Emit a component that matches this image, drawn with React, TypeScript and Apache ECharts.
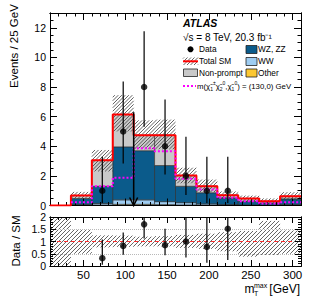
import React, { useEffect, useRef } from "react";
import * as echarts from "echarts";

// ---------------- data ----------------
const binEdges = [10, 35, 60, 85, 110, 135, 160, 185, 210, 235, 260, 285, 310];
const otherBkg = [0, 0.02, 0.04, 0.08, 0.08, 0.06, 0.04, 0.03, 0.02, 0.01, 0.01, 0.02];
const wwBkg = [0, 0.05, 0.1, 0.3, 0.3, 0.2, 0.15, 0.08, 0.05, 0.03, 0.02, 0.05];
const wzzzBkg = [0, 0.4, 1.16, 3.58, 3.32, 2.44, 1.11, 0.75, 0.45, 0.25, 0.15, 0.38];
const nonPromptBkg = [0, 0.21, 1.75, 2.19, 1.05, 2.05, 0.72, 0.44, 0.18, 0.18, 0.11, 0.17];
const totalSysLow = [0, 0.45, 2.3, 5.0, 3.8, 3.8, 1.5, 0.9, 0.42, 0.2, 0.13, 0.3];
const totalSysHigh = [0, 0.92, 3.75, 7.45, 5.75, 5.8, 2.55, 1.75, 0.95, 0.67, 0.48, 0.9];
const signal130 = [0, 0.22, 1.3, 1.87, 3.87, 3.67, 1.8, 1.08, 0.52, 0.29, 0.13, 0.22];

const dataX = [72.5, 97.5, 122.5, 147.5, 172.5, 197.5, 222.5];
const dataCounts = [1, 5, 8, 4, 2, 1, 1];
const dataErrLow = [0.17, 2.84, 5.32, 2.09, 0.71, 0.17, 0.17];
const dataErrHigh = [3.3, 8.38, 11.77, 7.16, 4.64, 3.3, 3.3];

const ratioValues = [0.32, 0.82, 1.7, 0.85, 1.0, 0.78, 1.52];
const ratioErrLow = [0.05, 0.46, 1.12, 0.44, 0.35, 0.13, 0.25];
const ratioErrHigh = [1.08, 1.37, 2.5, 1.52, 2.3, 2.6, 5.0];
const ratioBandLow = [0, 0.5, 0.76, 0.78, 0.8, 0.8, 0.74, 0.7, 0.6, 0.38, 0.45, 0.5];
const ratioBandHigh = [2, 1.5, 1.25, 1.24, 1.2, 1.22, 1.27, 1.32, 1.38, 1.43, 1.84, 1.45];

const cutArrow = [110, 6.3];

const xMajorTicks = [50, 100, 150, 200, 250, 300];
const xMinorTicks = Array.from({ length: 31 }, (_, i) => 10 + 10 * i);
const yMainLabels = [0, 2, 4, 6, 8, 10, 12];
const yMainMinor = Array.from({ length: 27 }, (_, i) => 0.5 * i);
const yRatioLabels = [0, 0.5, 1, 1.5, 2];
const yRatioMinor = Array.from({ length: 21 }, (_, i) => i / 10);

const FONT = "'Liberation Sans', Arial, Helvetica, sans-serif";
const C_OTHER = "#fcc832";
const C_WW = "#9fcdf2";
const C_WZ = "#0b5b8b";
const C_NP = "#c9c9c9";
const C_HATCH = "#3c3c3c";

function hatchSegments(x0: number, x1: number, yTop: number, yBot: number, s: number) {
  const segs: number[][] = [];
  const kStart = Math.ceil((x0 + yTop) / s) * s;
  for (let k = kStart; k <= x1 + yBot; k += s) {
    const xa = Math.max(x0, k - yBot);
    const xb = Math.min(x1, k - yTop);
    if (xb > xa) segs.push([xa, k - xa, xb, k - xb]);
  }
  return segs;
}

function hatchChildren(x0: number, x1: number, yTop: number, yBot: number, s: number, color: string, w: number) {
  return hatchSegments(x0, x1, yTop, yBot, s).map((g) => ({
    type: "line",
    shape: { x1: g[0], y1: g[1], x2: g[2], y2: g[3] },
    style: { stroke: color, lineWidth: w },
  }));
}

export default function App() {
  const ref = useRef<HTMLDivElement>(null);

  useEffect(() => {
    if (!ref.current) return;
    const chart = echarts.init(ref.current, undefined, { renderer: "svg" });

    const nBins = binEdges.length - 1;
    const comps = [
      { values: otherBkg, color: C_OTHER },
      { values: wwBkg, color: C_WW },
      { values: wzzzBkg, color: C_WZ },
      { values: nonPromptBkg, color: C_NP },
    ];
    const cum = new Array(nBins).fill(0);
    const stackSeries = comps.map((c) => {
      const data = [];
      for (let i = 0; i < nBins; i++) {
        data.push([binEdges[i], binEdges[i + 1], cum[i], cum[i] + c.values[i]]);
        cum[i] += c.values[i];
      }
      return {
        type: "custom",
        xAxisIndex: 0,
        yAxisIndex: 0,
        z: 1,
        silent: true,
        data,
        renderItem: (params: any, api: any) => {
          const y0 = api.value(2);
          const y1 = api.value(3);
          if (y1 - y0 <= 0) return null;
          const a = api.coord([api.value(0), y1]);
          const b = api.coord([api.value(1), y0]);
          return {
            type: "rect",
            shape: { x: a[0], y: a[1], width: b[0] - a[0], height: b[1] - a[1] },
            style: { fill: c.color, stroke: "#2a2a2a", lineWidth: 0.6 },
          };
        },
      };
    });
    const totalSM = cum.slice();

    const hatchRender = (spacing: number) => (params: any, api: any) => {
      const lo = api.value(2);
      const hi = api.value(3);
      if (hi <= lo) return null;
      const a = api.coord([api.value(0), hi]);
      const b = api.coord([api.value(1), lo]);
      return { type: "group", children: hatchChildren(a[0], b[0], a[1], b[1], spacing, C_HATCH, 0.8) };
    };

    const mainBand = [];
    const ratioBand = [];
    for (let i = 0; i < nBins; i++) {
      mainBand.push([binEdges[i], binEdges[i + 1], totalSysLow[i], totalSysHigh[i]]);
      ratioBand.push([binEdges[i], binEdges[i + 1], ratioBandLow[i], ratioBandHigh[i]]);
    }

    const errRender = (yMax: number) => (params: any, api: any) => {
      const x = api.value(0);
      const p1 = api.coord([x, api.value(1)]);
      const p2 = api.coord([x, Math.min(api.value(2), yMax)]);
      return {
        type: "line",
        shape: { x1: p1[0], y1: p1[1], x2: p2[0], y2: p2[1] },
        style: { stroke: "#000", lineWidth: 1.2 },
      };
    };

    const tickStyle = { color: "#000", width: 1 };
    const lineStyle = { show: true, onZero: false, lineStyle: { color: "#000", width: 1 } };

    const makeX = (grid: number, labels: boolean, majLen: number, minLen: number) => {
      const base = { type: "value", gridIndex: grid, min: 10, max: 310, z: 10, splitLine: { show: false }, axisLine: lineStyle };
      return [
        {
          ...base,
          position: "bottom",
          axisTick: { show: true, inside: true, length: majLen, customValues: xMajorTicks, lineStyle: tickStyle },
          axisLabel: labels
            ? { show: true, customValues: xMajorTicks, margin: 3, color: "#000", fontSize: 11.5, fontFamily: FONT }
            : { show: false },
        },
        { ...base, position: "top", axisTick: { show: true, inside: true, length: majLen, customValues: xMajorTicks, lineStyle: tickStyle }, axisLabel: { show: false } },
        { ...base, position: "bottom", axisTick: { show: true, inside: true, length: minLen, customValues: xMinorTicks, lineStyle: tickStyle }, axisLabel: { show: false } },
        { ...base, position: "top", axisTick: { show: true, inside: true, length: minLen, customValues: xMinorTicks, lineStyle: tickStyle }, axisLabel: { show: false } },
      ];
    };
    const makeY = (
      grid: number,
      min: number,
      max: number,
      labels: number[],
      minor: number[],
      majLen: number,
      minLen: number,
      pad: number[]
    ) => {
      const base = { type: "value", gridIndex: grid, min, max, z: 10, splitLine: { show: false }, axisLine: lineStyle };
      return [
        {
          ...base,
          position: "left",
          axisTick: { show: true, inside: true, length: majLen, customValues: labels, lineStyle: tickStyle },
          axisLabel: {
            show: true,
            customValues: labels,
            showMinLabel: true,
            showMaxLabel: true,
            hideOverlap: false,
            margin: 4,
            color: "#000",
            fontSize: 10.5,
            lineHeight: 10,
            padding: pad,
            fontFamily: FONT,
            formatter: (v: number) => String(v),
          },
        },
        { ...base, position: "right", axisTick: { show: true, inside: true, length: majLen, customValues: labels, lineStyle: tickStyle }, axisLabel: { show: false } },
        { ...base, position: "left", axisTick: { show: true, inside: true, length: minLen, customValues: minor, lineStyle: tickStyle }, axisLabel: { show: false } },
        { ...base, position: "right", axisTick: { show: true, inside: true, length: minLen, customValues: minor, lineStyle: tickStyle }, axisLabel: { show: false } },
      ];
    };

    const legendText = (x: number, y: number, text: string) => ({
      type: "text",
      x,
      y,
      style: { text, fontSize: 8.3, fontFamily: FONT, fill: "#000", align: "left", verticalAlign: "middle" },
    });
    const legendBox = (x: number, y: number, w: number, h: number, fill: string) => ({
      type: "rect",
      shape: { x, y, width: w, height: h },
      style: { fill, stroke: "#222", lineWidth: 0.8 },
    });

    const option: any = {
      animation: false,
      grid: [
        { left: 50, top: 13, width: 251, height: 192.5, containLabel: false, outerBoundsMode: "none" },
        { left: 50, top: 217, width: 251, height: 49, containLabel: false, outerBoundsMode: "none" },
      ],
      xAxis: [...makeX(0, false, 7, 3.5), ...makeX(1, true, 6, 3)],
      yAxis: [
        ...makeY(0, 0, 13, yMainLabels, yMainMinor, 7, 3.5, [0, 0, 2, 0]),
        ...makeY(1, 0, 2, yRatioLabels, yRatioMinor, 6, 3, [2, 0, 0, 0]),
      ],
      series: [
        ...stackSeries,
        {
          type: "custom",
          xAxisIndex: 0,
          yAxisIndex: 0,
          z: 2,
          silent: true,
          data: mainBand,
          renderItem: hatchRender(3.5),
        },
        {
          type: "line",
          xAxisIndex: 0,
          yAxisIndex: 0,
          z: 11,
          step: "end",
          symbol: "none",
          showSymbol: false,
          silent: true,
          lineStyle: { color: "#ff0000", width: 2 },
          data: binEdges.map((e, i) => [e, totalSM[Math.min(i, nBins - 1)]]),
        },
        {
          type: "line",
          xAxisIndex: 0,
          yAxisIndex: 0,
          z: 12,
          step: "end",
          symbol: "none",
          showSymbol: false,
          silent: true,
          lineStyle: { color: "#ff00ff", width: 2, type: [2, 2] },
          data: binEdges.slice(1).map((e, j) => [e, signal130[Math.min(j + 1, nBins - 1)]]),
        },
        {
          type: "custom",
          xAxisIndex: 0,
          yAxisIndex: 0,
          z: 13,
          silent: true,
          data: [cutArrow],
          renderItem: (params: any, api: any) => {
            const top = api.coord([api.value(0), api.value(1)]);
            const bot = api.coord([api.value(0), 0]);
            return {
              type: "group",
              children: [
                { type: "line", shape: { x1: top[0], y1: top[1], x2: bot[0], y2: bot[1] }, style: { stroke: "#000", lineWidth: 1.5 } },
                {
                  type: "polyline",
                  shape: { points: [[bot[0] - 4, bot[1] - 8], [bot[0], bot[1]], [bot[0] + 4, bot[1] - 8]] },
                  style: { stroke: "#000", lineWidth: 1.5, fill: "none" },
                },
              ],
            };
          },
        },
        {
          type: "custom",
          xAxisIndex: 0,
          yAxisIndex: 0,
          z: 14,
          silent: true,
          data: dataX.map((x, i) => [x, dataErrLow[i], dataErrHigh[i]]),
          renderItem: errRender(13),
        },
        {
          type: "scatter",
          xAxisIndex: 0,
          yAxisIndex: 0,
          z: 15,
          silent: true,
          symbol: "circle",
          symbolSize: 6.5,
          itemStyle: { color: "#000" },
          data: dataX.map((x, i) => [x, dataCounts[i]]),
        },
        // ratio panel
        {
          type: "custom",
          xAxisIndex: 4,
          yAxisIndex: 4,
          z: 2,
          silent: true,
          data: ratioBand,
          renderItem: hatchRender(4),
        },
        {
          type: "custom",
          xAxisIndex: 4,
          yAxisIndex: 4,
          z: 14,
          silent: true,
          data: dataX.map((x, i) => [x, ratioErrLow[i], ratioErrHigh[i]]),
          renderItem: errRender(2),
        },
        {
          type: "scatter",
          xAxisIndex: 4,
          yAxisIndex: 4,
          z: 15,
          silent: true,
          symbol: "circle",
          symbolSize: 6.5,
          itemStyle: { color: "#000" },
          data: dataX.map((x, i) => [x, ratioValues[i]]),
          markLine: {
            silent: true,
            symbol: "none",
            label: { show: false },
            animation: false,
            data: [
              { yAxis: 0.5, lineStyle: { color: "#b8b8b8", type: [1, 1], width: 1 } },
              { yAxis: 1.5, lineStyle: { color: "#b8b8b8", type: [1, 1], width: 1 } },
              { yAxis: 1, lineStyle: { color: "#ff3030", type: [4, 3], width: 1 } },
            ],
          },
        },
      ],
      graphic: [
        {
          type: "text",
          x: 14,
          y: 46,
          rotation: Math.PI / 2,
          style: { text: "Events / 25 GeV", fontSize: 11.5, fontFamily: FONT, fill: "#000", align: "center", verticalAlign: "middle" },
        },
        {
          type: "text",
          x: 16,
          y: 241,
          rotation: Math.PI / 2,
          style: { text: "Data / SM", fontSize: 11.5, fontFamily: FONT, fill: "#000", align: "center", verticalAlign: "middle" },
        },
        { type: "text", x: 244.5, y: 289, style: { text: "m", fontSize: 12, fontFamily: FONT, fill: "#000", align: "left", verticalAlign: "middle" } },
        { type: "text", x: 254, y: 285, style: { text: "max", fontSize: 7, fontFamily: FONT, fill: "#000", align: "left", verticalAlign: "middle" } },
        { type: "text", x: 254, y: 293.5, style: { text: "T", fontSize: 7, fontFamily: FONT, fill: "#000", align: "left", verticalAlign: "middle" } },
        { type: "text", x: 300, y: 288.5, style: { text: "[GeV]", fontSize: 12, fontFamily: FONT, fill: "#000", align: "right", verticalAlign: "middle" } },
        {
          type: "text",
          x: 183,
          y: 22.7,
          style: { text: "ATLAS", fontSize: 10.5, fontWeight: "bold", fontStyle: "italic", fontFamily: FONT, fill: "#000", align: "left", verticalAlign: "middle" },
        },
        { type: "text", x: 183, y: 37.5, style: { text: "√s = 8 TeV, 20.3 fb⁻¹", fontSize: 10, fontFamily: FONT, fill: "#000", align: "left", verticalAlign: "middle" } },
        { type: "circle", shape: { cx: 190.5, cy: 49.3, r: 3 }, style: { fill: "#000" } },
        legendText(199, 49.3, "Data"),
        {
          type: "group",
          children: [
            ...hatchChildren(183, 198, 57.5, 65, 3.5, C_HATCH, 0.8),
            { type: "line", shape: { x1: 183, y1: 61.3, x2: 198, y2: 61.3 }, style: { stroke: "#ff0000", lineWidth: 2 } },
          ],
        },
        legendText(199, 61.3, "Total SM"),
        legendBox(183.5, 69, 14, 7.5, C_NP),
        legendText(199, 72.7, "Non-prompt"),
        { type: "line", shape: { x1: 183, y1: 86, x2: 196, y2: 86 }, style: { stroke: "#ff00ff", lineWidth: 2, lineDash: [2, 2] } },
        {
          type: "text",
          x: 197,
          y: 86,
          style: {
            text: "{t|m(χ̃}{d|1}{u|±}{t|χ̃}{d|2}{u|0}{t|,χ̃}{d|1}{u|0}{t|) = (130,0) GeV}",
            fontFamily: FONT,
            fill: "#000",
            align: "left",
            verticalAlign: "middle",
            rich: {
              t: { fontSize: 7.8, fontFamily: FONT, lineHeight: 11, fill: "#000" },
              u: { fontSize: 5, fontFamily: FONT, lineHeight: 5.5, verticalAlign: "top", fill: "#000" },
              d: { fontSize: 5, fontFamily: FONT, lineHeight: 5.5, verticalAlign: "bottom", fill: "#000" },
            },
          },
        },
        legendBox(246, 45.5, 11, 8, C_WZ),
        legendText(258, 49.3, "WZ, ZZ"),
        legendBox(246, 57.5, 11, 8, C_WW),
        legendText(258, 61.3, "WW"),
        legendBox(246, 69, 11, 8, C_OTHER),
        legendText(258, 72.7, "Other"),
      ],
    };

    chart.setOption(option);
    return () => chart.dispose();
  }, []);

  return <div ref={ref} style={{ position: "absolute", left: 0, top: 0, width: 316, height: 303 }} />;
}
